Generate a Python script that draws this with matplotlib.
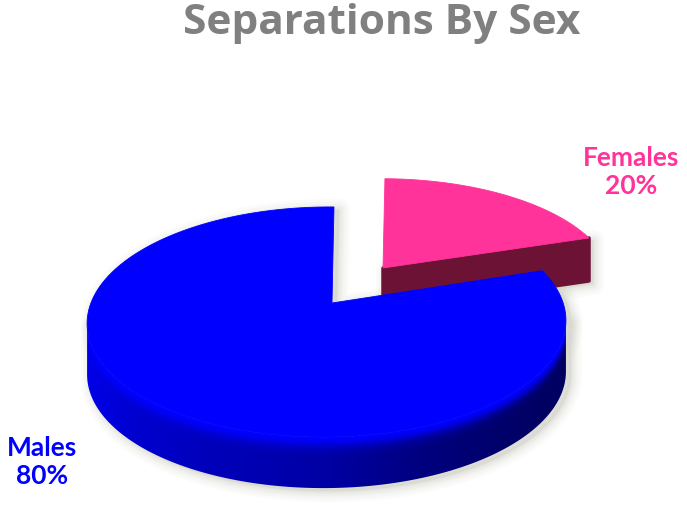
import matplotlib
matplotlib.use('Agg')
import matplotlib.pyplot as plt
from matplotlib.patches import Polygon
import numpy as np

categories = ['Females', 'Males']
shares = [20, 80]
title = 'Separations By Sex'

W, H = 687, 522
PERSP_V, PERSP_U = 0.1653, 0.021
RX, RY = 236.0, 111.9


def project(theta, apex, scale_x=1.0, scale_y=1.0):
    # circle in the tilted plane -> screen pixels, theta clockwise from 12 o'clock
    u, v = np.sin(theta), np.cos(theta)
    den = 1 + PERSP_V * v + PERSP_U * u
    return apex[0] + scale_x * (RX * u + 2.3 * v) / den, apex[1] - scale_y * RY * v / den


fig = plt.figure(figsize=(W / 100, H / 100), dpi=100)
ax = fig.add_axes([0, 0, 1, 1])
ax.axis('off')

split = 2 * np.pi * shares[0] / sum(shares)

# ---- pink slice, pulled out of the pie
pink_apex = (383, 268)
pink_depth = 43
t = np.linspace(0, split, 80)
px, py = project(t, pink_apex, 0.98, 0.93)
pink_top = np.column_stack([np.r_[pink_apex[0], px], np.r_[pink_apex[1], py]])
pink_cut = np.array([pink_apex, (px[-1], py[-1]), (px[-1], py[-1] + pink_depth),
                     (pink_apex[0], pink_apex[1] + pink_depth)])

# ---- blue slice
blue_apex = (332, 303)
blue_depth = 51
t = np.linspace(split, 2 * np.pi, 400)
bx, by = project(t, blue_apex)
blue_top = np.column_stack([np.r_[blue_apex[0], bx], np.r_[blue_apex[1], by]])

# front part of the rim, the only part where the wall shows
left = np.argmin(bx)
right = np.argmax(bx)
fx, fy = bx[right:left + 1], by[right:left + 1]
blue_wall = np.column_stack([np.r_[fx, fx[::-1]], np.r_[fy, fy[::-1] + blue_depth]])

# soft shadows on the page
for lw, al in zip([16, 12, 8, 5, 2], [0.10, 0.14, 0.18, 0.22, 0.30]):
    for shape, off in [(blue_wall, (5, 3)), (blue_top, (5, 3)), (pink_cut, (4, 3))]:
        ax.add_patch(Polygon(shape + off, closed=True, fc='#d8d8d0', ec='#d8d8d0',
                             lw=lw, alpha=al, joinstyle='round', zorder=1))

ax.add_patch(Polygon(pink_cut, closed=True, fc='#6b1235', ec='#6b1235', lw=2.5,
                     joinstyle='round', zorder=2))
ax.add_patch(Polygon(pink_top, closed=True, fc='#ff3399', ec='#ff3399', lw=0.6, zorder=3))

# wall shading: darkens left to right, bright bevel along the rim
yy, xx = np.mgrid[0:H, 0:W] + 0.5
rim_y = np.interp(xx, fx[::-1], fy[::-1])
s = np.clip((yy - rim_y) / blue_depth, 0, 1)
stops_x = [80, 130, 200, 330, 420, 520, 570]
stops_b = [0.92, 0.82, 0.74, 0.64, 0.50, 0.40, 0.38]
base = np.interp(xx, stops_x, stops_b)
bevel = np.exp(-(s / 0.2) ** 2)
blue_chan = base + (1.0 - base) * bevel
wall_rgb = np.dstack([np.zeros_like(blue_chan), np.zeros_like(blue_chan), blue_chan])

wall_clip = Polygon(blue_wall, closed=True, transform=ax.transData, fc='none', ec='none')
ax.add_patch(wall_clip)
im = ax.imshow(wall_rgb, extent=(0, W, H, 0), origin='upper', aspect='auto', zorder=4)
im.set_clip_path(wall_clip)

ax.add_patch(Polygon(blue_top, closed=True, fc='#0000ff', ec='#0000ff', lw=0.6, zorder=5))

ax.set_xlim(0, W)
ax.set_ylim(H, 0)

ax.text(382, 23, title, ha='center', va='center', color='#808080', fontsize=30.5,
        fontweight='bold', family='Open Sans')
ax.text(631, 172, '%s\n%d%%' % (categories[0], shares[0]), ha='center', va='center',
        color='#ff3399', fontsize=19, fontweight='bold', family='Lato', linespacing=1.18)
ax.text(42, 462, '%s\n%d%%' % (categories[1], shares[1]), ha='center', va='center',
        color='#0000ff', fontsize=19, fontweight='bold', family='Lato', linespacing=1.18)

fig.savefig('out.png', dpi=100, facecolor='white')
